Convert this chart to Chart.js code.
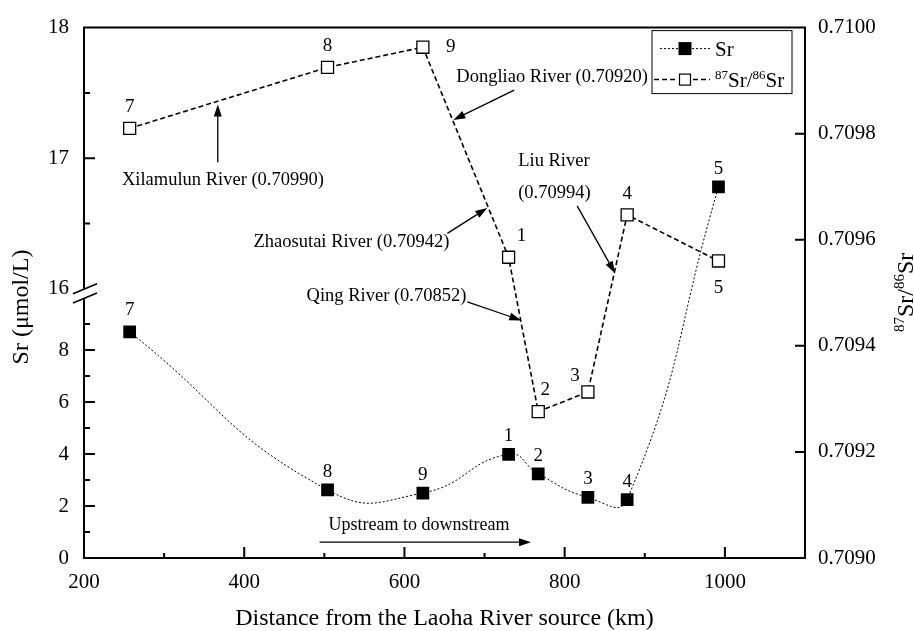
<!DOCTYPE html>
<html>
<head>
<meta charset="utf-8">
<script src="https://cdn.jsdelivr.net/npm/chart.js@4.4.1/dist/chart.umd.min.js"></script>
<style>
  html, body { margin: 0; padding: 0; background: #fff; }
</style>
</head>
<body>
<canvas id="srChart" width="914" height="631"></canvas>
<script>
// sampling sites along the Laoha River, in downstream order
const sites = ['7', '8', '9', '1', '2', '3', '4', '5'];
const distance = [257, 504, 623, 730, 767, 829, 878, 992];          // km
const srConc = [8.70, 2.62, 2.50, 3.99, 3.24, 2.33, 2.25, 16.78];   // umol/L
const srRatio = [0.70981, 0.709925, 0.709963, 0.709567, 0.709276, 0.709313, 0.709647, 0.70956];

const xTicks = [200, 400, 600, 800, 1000];
const xMinor = [300, 500, 700, 900];
const srTicks = [0, 2, 4, 6, 8, 16, 17, 18];
const srMinor = [1, 3, 5, 7, 9, 16.5, 17.5];
const ratioTicks = [0.7090, 0.7092, 0.7094, 0.7096, 0.7098, 0.7100];

// broken Sr axis: values and where they sit on the axis (0 = bottom, 1 = top)
const breakValues = [0, 10, 16, 18];
const breakFracs = [0, 0.49, 0.5075, 1];

const serif = '"Liberation Serif", "Times New Roman", serif';

class BrokenScale extends Chart.LinearScale {
    static id = 'broken';
    buildTicks() {
        return srTicks.map(v => ({ value: v }));
    }
    getPixelForValue(value) {
        if (value === null || value === undefined) return NaN;
        const v = Math.max(breakValues[0], Math.min(breakValues[breakValues.length - 1], value));
        let i = 0;
        while (i < breakValues.length - 2 && v > breakValues[i + 1]) i++;
        const t = (v - breakValues[i]) / (breakValues[i + 1] - breakValues[i]);
        return this.getPixelForDecimal(breakFracs[i] + t * (breakFracs[i + 1] - breakFracs[i]));
    }
    getValueForPixel(pixel) {
        const f = this.getDecimalForPixel(pixel);
        let i = 0;
        while (i < breakFracs.length - 2 && f > breakFracs[i + 1]) i++;
        const t = (f - breakFracs[i]) / (breakFracs[i + 1] - breakFracs[i]);
        return breakValues[i] + t * (breakValues[i + 1] - breakValues[i]);
    }
}
Chart.register(BrokenScale);

// river annotations, anchored in data units (km, 87Sr/86Sr)
const notes = [
    { lines: ['Xilamulun River (0.70990)'], at: [247.4, 0.709713], align: 'left', tail: [367, 0.709746], tip: [367, 0.709855] },
    { lines: ['Dongliao River (0.70920)'], at: [664.8, 0.709907], align: 'left', tail: [737, 0.709882], tip: [661, 0.709826] },
    { lines: ['Zhaosutai River (0.70942)'], at: [656, 0.709595], align: 'right', tail: [653.6, 0.709612], tip: [703.4, 0.70966] },
    { lines: ['Qing River (0.70852)'], at: [677.3, 0.709494], align: 'right', tail: [678.5, 0.709483], tip: [745.8, 0.709448] },
    { lines: ['Liu River', '(0.70994)'], at: [742, 0.709748], align: 'left', tail: [815.6, 0.709664], tip: [862.9, 0.709537] }
];

function arrow(ctx, x1, y1, x2, y2) {
    const a = Math.atan2(y2 - y1, x2 - x1);
    const len = 12, half = 4;
    ctx.beginPath();
    ctx.moveTo(x1, y1);
    ctx.lineTo(x2 - Math.cos(a) * len * 0.8, y2 - Math.sin(a) * len * 0.8);
    ctx.stroke();
    ctx.beginPath();
    ctx.moveTo(x2, y2);
    ctx.lineTo(x2 - Math.cos(a) * len - Math.sin(a) * half, y2 - Math.sin(a) * len + Math.cos(a) * half);
    ctx.lineTo(x2 - Math.cos(a) * len + Math.sin(a) * half, y2 - Math.sin(a) * len - Math.cos(a) * half);
    ctx.closePath();
    ctx.fill();
}

// text with superscripts, e.g. 87Sr/86Sr
function supText(ctx, parts, x, y, size, supSize) {
    let cx = x;
    parts.forEach(p => {
        ctx.font = (p.sup ? supSize : size) + 'px ' + serif;
        ctx.fillText(p.t, cx, p.sup ? y - size * 0.36 : y);
        cx += ctx.measureText(p.t).width;
    });
}
const ratioName = [{ t: '87', sup: true }, { t: 'Sr/' }, { t: '86', sup: true }, { t: 'Sr' }];

const decorPlugin = {
    id: 'decor',
    afterDraw(chart) {
        const ctx = chart.ctx, ca = chart.chartArea;
        const xs = chart.scales.x, ys = chart.scales.ySr, yr = chart.scales.yRatio;
        ctx.save();
        ctx.strokeStyle = '#000';
        ctx.fillStyle = '#000';
        ctx.setLineDash([]);

        // frame, left axis broken
        const yBreakHi = ys.getPixelForValue(16), yBreakLo = ys.getPixelForValue(10);
        ctx.lineWidth = 2;
        ctx.beginPath();
        ctx.moveTo(ca.left, yBreakHi);
        ctx.lineTo(ca.left, ca.top);
        ctx.lineTo(ca.right, ca.top);
        ctx.lineTo(ca.right, ca.bottom);
        ctx.lineTo(ca.left, ca.bottom);
        ctx.lineTo(ca.left, yBreakLo);
        ctx.stroke();
        ctx.lineWidth = 1.6;
        ctx.beginPath();
        [yBreakHi, yBreakLo].forEach(y => {
            ctx.moveTo(ca.left - 11, y + 5);
            ctx.lineTo(ca.left + 13, y - 5);
        });
        ctx.stroke();

        // inward tick marks
        ctx.lineWidth = 2;
        ctx.beginPath();
        xTicks.slice(1).forEach(v => { const x = xs.getPixelForValue(v); ctx.moveTo(x, ca.bottom); ctx.lineTo(x, ca.bottom - 11); });
        xMinor.forEach(v => { const x = xs.getPixelForValue(v); ctx.moveTo(x, ca.bottom); ctx.lineTo(x, ca.bottom - 5); });
        srTicks.filter(v => v !== 0 && v !== 16 && v !== 18).forEach(v => { const y = ys.getPixelForValue(v); ctx.moveTo(ca.left, y); ctx.lineTo(ca.left + 11, y); });
        srMinor.forEach(v => { const y = ys.getPixelForValue(v); ctx.moveTo(ca.left, y); ctx.lineTo(ca.left + 6, y); });
        ratioTicks.slice(1, -1).forEach(v => { const y = yr.getPixelForValue(v); ctx.moveTo(ca.right, y); ctx.lineTo(ca.right - 10, y); });
        ctx.stroke();

        // site numbers
        ctx.font = '19px ' + serif;
        ctx.textAlign = 'center';
        ctx.textBaseline = 'middle';
        chart.getDatasetMeta(0).data.forEach((pt, i) => {
            ctx.fillText(sites[i], pt.x, pt.y - (i === 0 ? 22 : 18));
        });
        const openShift = { '9': [28, 0], '1': [13, -21], '2': [7, -22], '3': [-13, -16], '5': [0, 27] };
        chart.getDatasetMeta(1).data.forEach((pt, i) => {
            const s = openShift[sites[i]] || [0, -21];
            ctx.fillText(sites[i], pt.x + s[0], pt.y + s[1]);
        });

        // river notes
        ctx.font = '18.5px ' + serif;
        ctx.lineWidth = 1.3;
        notes.forEach(n => {
            const tx = xs.getPixelForValue(n.at[0]), ty = yr.getPixelForValue(n.at[1]);
            ctx.textAlign = n.align;
            n.lines.forEach((line, k) => ctx.fillText(line, tx, ty + k * 32));
            arrow(ctx, xs.getPixelForValue(n.tail[0]), yr.getPixelForValue(n.tail[1]),
                xs.getPixelForValue(n.tip[0]), yr.getPixelForValue(n.tip[1]));
        });

        // flow direction
        ctx.textAlign = 'left';
        ctx.font = '18px ' + serif;
        ctx.fillText('Upstream to downstream', xs.getPixelForValue(505.3), ys.getPixelForValue(1.26));
        arrow(ctx, xs.getPixelForValue(494), ys.getPixelForValue(0.61), xs.getPixelForValue(758), ys.getPixelForValue(0.61));

        // legend
        const lx = ca.right - 153, ly = ca.top + 3;
        ctx.lineWidth = 1;
        ctx.strokeRect(lx, ly, 140, 63);
        const r1 = ly + 18, r2 = ly + 49, sx = lx + 33;
        ctx.setLineDash([2, 2]);
        ctx.beginPath();
        ctx.moveTo(lx + 8, r1); ctx.lineTo(sx - 7, r1);
        ctx.moveTo(sx + 7, r1); ctx.lineTo(lx + 60, r1);
        ctx.stroke();
        ctx.setLineDash([5, 3]);
        ctx.lineWidth = 1.5;
        ctx.beginPath();
        ctx.moveTo(lx + 2, r2); ctx.lineTo(sx - 8, r2);
        ctx.moveTo(sx + 8, r2); ctx.lineTo(lx + 58, r2);
        ctx.stroke();
        ctx.setLineDash([]);
        ctx.fillRect(sx - 6.5, r1 - 6.5, 13, 13);
        ctx.lineWidth = 1.2;
        ctx.strokeRect(sx - 5.5, r2 - 5.5, 11, 11);
        ctx.textBaseline = 'alphabetic';
        ctx.font = '21px ' + serif;
        ctx.fillText('Sr', lx + 63, r1 + 7);
        supText(ctx, ratioName, lx + 63, r2 + 7, 21, 13);

        // axis titles
        ctx.textAlign = 'center';
        ctx.font = '24px ' + serif;
        ctx.fillText('Distance from the Laoha River source (km)', (ca.left + ca.right) / 2, 625);
        ctx.save();
        ctx.translate(28, 307);
        ctx.rotate(-Math.PI / 2);
        ctx.fillText('Sr (\u03bcmol/L)', 0, 0);
        ctx.restore();
        ctx.save();
        ctx.translate(913, 332);
        ctx.rotate(-Math.PI / 2);
        ctx.textAlign = 'left';
        supText(ctx, ratioName, 0, 0, 24, 15);
        ctx.restore();

        ctx.restore();
    }
};

const tickFont = { family: serif, size: 21 };

new Chart(document.getElementById('srChart'), {
    type: 'line',
    data: {
        datasets: [
            {
                label: 'Sr',
                data: distance.map((d, i) => ({ x: d, y: srConc[i] })),
                yAxisID: 'ySr',
                borderColor: '#000',
                borderWidth: 1,
                borderDash: [2, 2],
                tension: 0.5,
                pointStyle: 'rect',
                pointRadius: 9,
                pointBackgroundColor: '#000',
                pointBorderColor: '#000',
                pointBorderWidth: 0
            },
            {
                label: '87Sr/86Sr',
                data: distance.map((d, i) => ({ x: d, y: srRatio[i] })),
                yAxisID: 'yRatio',
                borderColor: '#000',
                borderWidth: 1.6,
                borderDash: [5, 3],
                tension: 0,
                pointStyle: 'rect',
                pointRadius: 8.5,
                pointBackgroundColor: '#fff',
                pointBorderColor: '#000',
                pointBorderWidth: 1.3
            }
        ]
    },
    options: {
        responsive: false,
        animation: false,
        layout: { padding: { top: 22, left: 0, right: 0, bottom: 0 } },
        plugins: { legend: { display: false }, tooltip: { enabled: false } },
        scales: {
            x: {
                type: 'linear',
                min: 200,
                max: 1100,
                afterBuildTicks: s => { s.ticks = xTicks.map(v => ({ value: v })); },
                afterFit: s => { s.height = 73; },
                grid: { display: false, drawTicks: false },
                border: { display: false },
                ticks: { font: tickFont, color: '#000', padding: 12, autoSkip: false, maxRotation: 0, callback: v => String(v) }
            },
            ySr: {
                type: 'broken',
                position: 'left',
                min: 0,
                max: 18,
                afterFit: s => { s.width = 84; },
                grid: { display: false, drawTicks: false },
                border: { display: false },
                ticks: { font: tickFont, color: '#000', padding: 15, autoSkip: false, callback: v => String(v) }
            },
            yRatio: {
                type: 'linear',
                position: 'right',
                min: 0.709,
                max: 0.710,
                afterBuildTicks: s => { s.ticks = ratioTicks.map(v => ({ value: v })); },
                afterFit: s => { s.width = 109; },
                grid: { display: false, drawTicks: false },
                border: { display: false },
                ticks: { font: tickFont, color: '#000', padding: 13, autoSkip: false, callback: v => v.toFixed(4) }
            }
        }
    },
    plugins: [decorPlugin]
});
</script>
</body>
</html>
